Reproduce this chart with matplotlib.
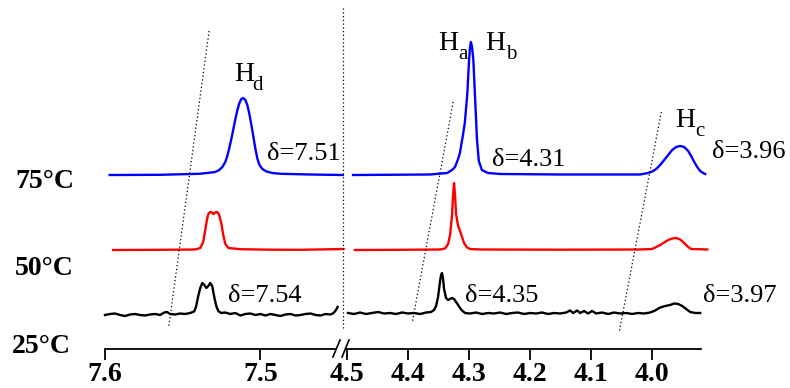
import numpy as np
import matplotlib
matplotlib.use('Agg')
import matplotlib.pyplot as plt

plt.rcParams['font.family'] = ['Liberation Serif', 'DejaVu Serif']

# temperatures and vertical offsets of each trace
temps = ['25°C', '50°C', '75°C']
offsets = [3.4, 9.9, 17.4]
colors = ['black', 'red', 'blue']

# ---- 75 C (blue) ----
blue_l_x = [7.597, 7.565, 7.539, 7.5290, 7.5265, 7.5245, 7.5226, 7.5213, 7.5200, 7.5187, 7.5174,
            7.5161, 7.5148, 7.5135, 7.5123, 7.5110, 7.5097, 7.5084, 7.5071, 7.5058, 7.5045,
            7.5032, 7.5019, 7.5006, 7.4987, 7.4961, 7.4923, 7.487, 7.468, 7.447]
blue_l_y = [0.0, 0.02, 0.12, 0.3, 0.5, 0.8, 1.3, 1.9, 2.7, 3.6, 4.6,
            5.6, 6.5, 7.2, 7.6, 7.7, 7.5, 7.0, 6.1, 5.0, 3.8,
            2.6, 1.6, 1.0, 0.6, 0.35, 0.2, 0.12, 0.05, 0.0]
blue_r_x = [4.490, 4.413, 4.364, 4.336, 4.328, 4.323, 4.318, 4.315, 4.310, 4.307, 4.303, 4.300,
            4.2984, 4.297, 4.2951, 4.293, 4.290, 4.287, 4.284, 4.279, 4.269, 4.249, 4.151, 4.020,
            4.0066, 4.0000, 3.9934, 3.9869, 3.9803, 3.9738, 3.9672, 3.9607, 3.9541, 3.9475,
            3.9410, 3.9361, 3.9311, 3.9262, 3.9213, 3.9164, 3.9131]
blue_r_y = [0.0, 0.03, 0.05, 0.2, 0.5, 0.8, 1.6, 2.2, 4.0, 5.2, 8.0, 11.5,
            12.8, 13.3, 12.8, 11.5, 7.5, 3.5, 1.4, 0.5, 0.2, 0.1, 0.05, 0.05,
            0.2, 0.35, 0.6, 1.0, 1.5, 2.0, 2.5, 2.8, 2.9, 2.8,
            2.4, 1.9, 1.3, 0.8, 0.4, 0.2, 0.1]

# ---- 50 C (red) ----
red_l_x = [7.5948, 7.5645, 7.5419, 7.5387, 7.5368, 7.5355, 7.5342, 7.5335, 7.5323, 7.5310, 7.5303,
           7.5290, 7.5277, 7.5265, 7.5252, 7.5239, 7.5226, 7.5206, 7.5129, 7.4935, 7.4742, 7.4465]
red_l_y = [0.0, 0.02, 0.05, 0.2, 0.8, 2.0, 3.2, 3.6, 3.8, 3.75, 3.6,
           3.75, 3.8, 3.5, 2.7, 1.5, 0.6, 0.2, 0.08, 0.03, 0.02, 0.1]
red_r_x = [4.487, 4.413, 4.348, 4.3393, 4.3344, 4.3311, 4.3279, 4.3262, 4.3246, 4.3230, 4.3213,
           4.3180, 4.3148, 4.3115, 4.3082, 4.3033, 4.2984, 4.282, 4.151, 4.020,
           4.0000, 3.9934, 3.9869, 3.9803, 3.9738, 3.9672, 3.9607, 3.9541, 3.9475, 3.9410,
           3.9361, 3.9098]
red_r_y = [0.0, 0.02, 0.05, 0.15, 0.6, 1.5, 3.5, 5.5, 6.7, 5.5, 3.6,
           2.4, 1.9, 1.3, 0.7, 0.25, 0.1, 0.05, 0.03, 0.05,
           0.1, 0.3, 0.5, 0.75, 1.0, 1.15, 1.2, 1.05, 0.7, 0.3,
           0.1, 0.05]

# ---- 25 C (black) ----
black_l_x = [7.6000, 7.5968, 7.5935, 7.5903, 7.5871, 7.5839, 7.5806, 7.5774, 7.5742, 7.5710,
             7.5677, 7.5645, 7.5619, 7.5600, 7.5581, 7.5548, 7.5516, 7.5484, 7.5452, 7.5426,
             7.5413, 7.5400, 7.5387, 7.5374, 7.5361, 7.5348, 7.5335, 7.5323, 7.5310, 7.5297,
             7.5284, 7.5271, 7.5252, 7.5226, 7.5194, 7.5161, 7.5129, 7.5097, 7.5065, 7.5032,
             7.5000, 7.4968, 7.4935, 7.4903, 7.4871, 7.4839, 7.4806, 7.4774, 7.4742, 7.4710,
             7.4677, 7.4645, 7.4613, 7.4581, 7.4548, 7.4529, 7.4516, 7.4503]
black_l_y = [0.0, 0.1, 0.15, 0.0, -0.1, 0.05, 0.1, 0.0, -0.05, 0.05,
             0.1, 0.0, 0.25, 0.3, 0.1, 0.05, 0.15, 0.1, 0.2, 0.35,
             0.9, 1.9, 2.7, 3.2, 3.0, 2.7, 2.9, 3.2, 2.9, 1.8,
             0.9, 0.4, 0.2, 0.25, 0.1, 0.2, -0.05, 0.1, 0.15, 0.0,
             0.1, -0.05, 0.1, 0.0, -0.1, 0.05, 0.1, -0.05, 0.0, 0.1,
             0.15, 0.0, -0.05, 0.1, 0.05, 0.2, 0.45, 0.8]
black_r_x = [4.4984, 4.4885, 4.4787, 4.4689, 4.4590, 4.4492, 4.4393, 4.4295, 4.4197, 4.4098,
             4.4000, 4.3902, 4.3803, 4.3705, 4.3623, 4.3574, 4.3541, 4.3508, 4.3475, 4.3459,
             4.3443, 4.3426, 4.3410, 4.3377, 4.3344, 4.3311, 4.3279, 4.3246, 4.3213, 4.3180,
             4.3148, 4.3115, 4.3066, 4.2984, 4.2885, 4.2787, 4.2689, 4.2590, 4.2492, 4.2393,
             4.2295, 4.2197, 4.2098, 4.2000, 4.1902, 4.1803, 4.1705, 4.1607, 4.1508, 4.1410,
             4.1344, 4.1295, 4.1230, 4.1180, 4.1115, 4.1049, 4.0984, 4.0918, 4.0820, 4.0721,
             4.0623, 4.0525, 4.0426, 4.0328, 4.0230, 4.0131, 4.0033, 3.9951, 3.9869, 3.9787,
             3.9705, 3.9639, 3.9574, 3.9508, 3.9443, 3.9377, 3.9295, 3.9213]
black_r_y = [0.2, 0.1, 0.25, 0.1, 0.2, 0.3, 0.15, 0.2, 0.1, 0.25,
             0.15, 0.2, 0.1, 0.25, 0.3, 0.5, 0.9, 1.8, 3.4, 4.0,
             4.2, 3.6, 2.6, 1.7, 1.5, 1.6, 1.7, 1.6, 1.3, 1.0,
             0.7, 0.45, 0.2, 0.15, 0.25, 0.1, 0.2, 0.15, 0.25, 0.1,
             0.2, 0.25, 0.1, 0.2, 0.15, 0.25, 0.1, 0.2, 0.15, 0.25,
             0.45, 0.2, 0.45, 0.2, 0.4, 0.15, 0.4, 0.15, 0.25, 0.1,
             0.25, 0.15, 0.2, 0.1, 0.2, 0.15, 0.25, 0.45, 0.75, 0.9,
             1.0, 1.15, 1.1, 0.9, 0.6, 0.3, 0.2, 0.2]

left_traces = [(black_l_x, black_l_y), (red_l_x, red_l_y), (blue_l_x, blue_l_y)]
right_traces = [(black_r_x, black_r_y), (red_r_x, red_r_y), (blue_r_x, blue_r_y)]

# dotted guide lines (ppm, height)
guide_hd_x, guide_hd_y = [7.533, 7.559], [31.8, 2.2]
guide_hab_x, guide_hab_y = [4.326, 4.393], [24.7, 2.7]
guide_hc_x, guide_hc_y = [3.985, 4.054], [23.7, 1.7]
split_x, split_y = [7.447, 7.447], [34.1, 2.1]

left_ticks = [7.6, 7.5]
right_ticks = [4.5, 4.4, 4.3, 4.2, 4.1, 4.0]

fig = plt.figure(figsize=(7.9, 3.88), dpi=100)
ax1 = fig.add_axes([105 / 790, 39 / 388, 230 / 790, 349 / 388])
ax2 = fig.add_axes([347 / 790, 39 / 388, 354 / 790, 349 / 388])
ax1.set_xlim(7.6, 7.452)
ax2.set_xlim(4.5, 3.92)

for ax in (ax1, ax2):
    ax.set_ylim(0, 34.9)
    ax.patch.set_alpha(0)
    for s in ('top', 'right', 'left'):
        ax.spines[s].set_visible(False)
    ax.spines['bottom'].set_linewidth(1.3)
    ax.set_yticks([])
    ax.tick_params(axis='x', direction='out', length=8, width=1.3, pad=1.5, labelsize=20)

ax1.set_xticks(left_ticks)
ax1.set_xticklabels([f'{t:.1f}' for t in left_ticks], fontweight='bold')
ax2.set_xticks(right_ticks)
ax2.set_xticklabels([f'{t:.1f}' for t in right_ticks], fontweight='bold')

for (x, y), off, c in zip(left_traces, offsets, colors):
    ax1.plot(x, np.array(y) + off, color=c, lw=1.7, clip_on=False)
for (x, y), off, c in zip(right_traces, offsets, colors):
    ax2.plot(x, np.array(y) + off, color=c, lw=1.7, clip_on=False)

dot = dict(color='black', lw=0.9, linestyle=(0, (1, 2)), clip_on=False)
ax1.plot(guide_hd_x, guide_hd_y, **dot)
ax1.plot(split_x, split_y, **dot)
ax2.plot(guide_hab_x, guide_hab_y, **dot)
ax2.plot(guide_hc_x, guide_hc_y, **dot)

# axis break marks
ax1.plot([1.022, 0.991], [0.026, -0.023], transform=ax1.transAxes, color='black', lw=1.2, clip_on=False)
ax2.plot([0.0056, -0.014], [0.026, -0.023], transform=ax2.transAxes, color='black', lw=1.2, clip_on=False)

# peak labels (H plus a lowered subscript)
def h_label(ax, x, y, sub, sub_x):
    ax.text(x, y, 'H', fontsize=20, va='baseline', clip_on=False)
    ax.text(sub_x, y - 0.9, sub, fontsize=15, va='baseline', clip_on=False)

h_label(ax1, 7.517, 26.8, 'd', 7.505)
h_label(ax2, 4.351, 29.9, 'a', 4.318)
h_label(ax2, 4.274, 29.9, 'b', 4.240)
h_label(ax2, 3.962, 22.2, 'c', 3.930)

ax1.text(7.496, 18.9, 'δ=7.51', fontsize=19, va='baseline')
ax1.text(7.521, 4.7, 'δ=7.54', fontsize=19, va='baseline')
ax2.text(4.262, 18.3, 'δ=4.31', fontsize=19, va='baseline', clip_on=False)
ax2.text(3.902, 19.1, 'δ=3.96', fontsize=19, va='baseline', clip_on=False)
ax2.text(4.307, 4.7, 'δ=4.35', fontsize=19, va='baseline')
ax2.text(3.916, 4.7, 'δ=3.97', fontsize=19, va='baseline', clip_on=False)

# temperature labels
temp_pos = [(12, 353), (15, 275), (15, 188)]
for t, (px, py) in zip(temps, temp_pos):
    fig.text(px / 790, (388 - py) / 388, t, fontsize=20, fontweight='bold', va='baseline')

fig.savefig('out.png', dpi=100)
